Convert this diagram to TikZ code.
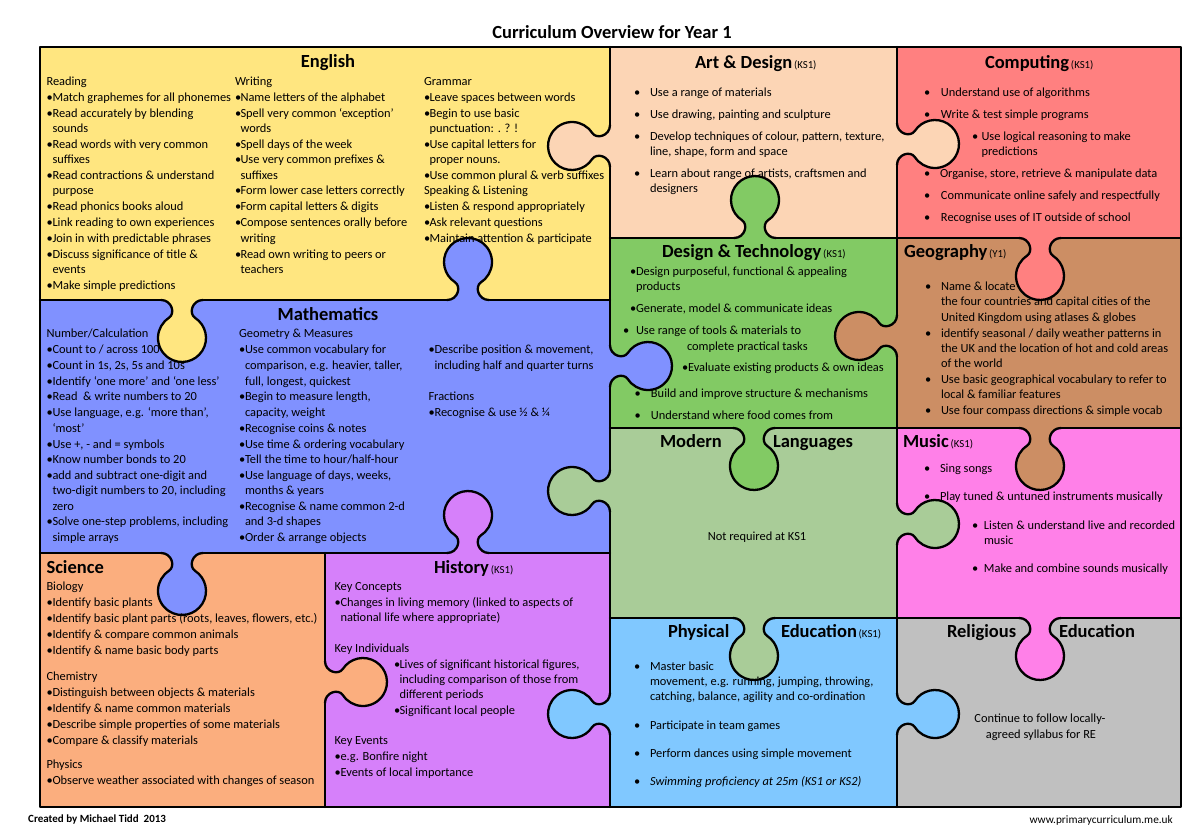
\documentclass[tikz,border=0pt]{standalone}
\usepackage{fontspec}
\setmainfont{Carlito}
\definecolor{cEng}{RGB}{255,230,128}
\definecolor{cArt}{RGB}{252,213,181}
\definecolor{cComp}{RGB}{255,128,128}
\definecolor{cMath}{RGB}{128,145,255}
\definecolor{cDT}{RGB}{130,202,100}
\definecolor{cGeo}{RGB}{204,142,100}
\definecolor{cML}{RGB}{169,204,152}
\definecolor{cMus}{RGB}{255,128,232}
\definecolor{cSci}{RGB}{251,174,126}
\definecolor{cHist}{RGB}{214,128,250}
\definecolor{cPE}{RGB}{128,200,255}
\definecolor{cRE}{RGB}{192,192,192}
\newcounter{lnc}
\tikzset{
 txt/.style={anchor=base west, inner sep=0pt, outer sep=0pt, font=\fontsize{12.4}{14}\selectfont},
 hd/.style={anchor=base west, inner sep=0pt, outer sep=0pt, font=\fontsize{18.5}{20}\selectfont\bfseries},
 pzline/.style={line width=2.3pt, line join=round, line cap=round},
}
\newcommand\txl[3]{\stepcounter{lnc}\node[txt] (t\arabic{lnc}) at (#1,{-(#2)-4}) {#3};}
\newcommand\bul[4]{\stepcounter{lnc}\node[txt] (t\arabic{lnc}) at (#2,{-(#3)-4}) {\llap{\makebox[\dimexpr#2pt-#1pt\relax][l]{•}}#4};}
\newcommand\hdl[3]{\stepcounter{lnc}\node[hd] (h\arabic{lnc}) at (#1,{-(#2)-5.5}) {#3};}
\newcommand\KS{{\mdseries\fontsize{10.8}{11}\selectfont\,(KS1)}}
\newcommand\tabcurve{(-21,0) .. controls (-10,0) and (-6.5,13.5) .. (-13,17.8) arc[start angle=237.2, end angle=-57.2, radius=24] .. controls (6.5,13.5) and (10,0) .. (21,0)}
\newcommand\ptab[4]{\begin{scope}[shift={(#1,-#2)}, rotate=#3]
 \fill[#4] (-21,-2) -- \tabcurve -- (21,-2) -- cycle;
 \draw[pzline] \tabcurve;
\end{scope}}
\begin{document}
\begin{tikzpicture}[x=1pt,y=1pt]
\useasboundingbox (0,0) rectangle (1187,-825);
\fill[white] (0,0) rectangle (1187,-825);
% pieces
\fill[cEng] (40,-47) rectangle (610,-300);
\fill[cArt] (610,-47) rectangle (897,-238);
\fill[cComp] (897,-47) rectangle (1181,-238);
\fill[cMath] (40,-300) rectangle (610,-553);
\fill[cDT] (610,-238) rectangle (897,-428);
\fill[cGeo] (897,-238) rectangle (1181,-428);
\fill[cML] (610,-428) rectangle (897,-618);
\fill[cMus] (897,-428) rectangle (1181,-618);
\fill[cSci] (40,-553) rectangle (325,-807);
\fill[cHist] (325,-553) rectangle (610,-807);
\fill[cPE] (610,-618) rectangle (897,-807);
\fill[cRE] (897,-618) rectangle (1181,-807);
% straight edges
\draw[pzline] (610,-47) -- (610,-807);
\draw[pzline] (897,-47) -- (897,-807);
\draw[pzline] (325,-553) -- (325,-807);
\draw[pzline] (40,-300) -- (610,-300);
\draw[pzline] (40,-553) -- (610,-553);
\draw[pzline] (610,-238) -- (1181,-238);
\draw[pzline] (610,-428) -- (1181,-428);
\draw[pzline] (610,-618) -- (1181,-618);
% tabs
\ptab{610}{146}{90}{cArt}
\ptab{468}{300}{0}{cMath}
\ptab{182}{300}{180}{cEng}
\ptab{610}{366}{-90}{cMath}
\ptab{755}{238}{0}{cDT}
\ptab{897}{144}{-90}{cArt}
\ptab{1040}{238}{180}{cComp}
\ptab{897}{336}{90}{cGeo}
\ptab{754}{428}{180}{cDT}
\ptab{1040}{428}{180}{cGeo}
\ptab{610}{491}{90}{cML}
\ptab{897}{524}{-90}{cML}
\ptab{182}{553}{180}{cMath}
\ptab{468}{553}{0}{cHist}
\ptab{325}{682}{-90}{cSci}
\ptab{610}{714}{90}{cPE}
\ptab{754}{618}{180}{cML}
\ptab{1040}{618}{180}{cMus}
\ptab{897}{714}{-90}{cPE}
\draw[pzline] (40,-47) rectangle (1181,-807);
% title and footer
\node[anchor=base, inner sep=0pt, font=\fontsize{18.5}{20}\selectfont\bfseries] (title) at (612,-38) {Curriculum Overview for Year 1};
\node[anchor=base west, inner sep=0pt, font=\fontsize{11}{12}\selectfont\bfseries] (credit) at (28,-822) {Created by Michael Tidd\ \ 2013};
\node[anchor=base east, inner sep=0pt, font=\fontsize{11.3}{12}\selectfont] (web) at (1173,-823) {www.primarycurriculum.me.uk};
% English
\node[hd, anchor=base] (heng) at (328,-67.5) {English};
\txl{46.5}{81}{Reading}
\bul{46.5}{52.5}{97}{Match graphemes for all phonemes}
\bul{46.5}{52.5}{113}{Read accurately by blending}
\txl{52.5}{128}{sounds}
\bul{46.5}{52.5}{144}{Read words with very common}
\txl{52.5}{159}{suffixes}
\bul{46.5}{52.5}{175}{Read contractions \& understand}
\txl{52.5}{190}{purpose}
\bul{46.5}{52.5}{206}{Read phonics books aloud}
\bul{46.5}{52.5}{222}{Link reading to own experiences}
\bul{46.5}{52.5}{238}{Join in with predictable phrases}
\bul{46.5}{52.5}{254}{Discuss significance of title \&}
\txl{52.5}{269}{events}
\bul{46.5}{52.5}{285}{Make simple predictions}
\txl{235}{81}{Writing}
\bul{235}{240.5}{97}{Name letters of the alphabet}
\bul{235}{240.5}{113}{Spell very common ‘exception’}
\txl{240.5}{128}{words}
\bul{235}{240.5}{144}{Spell days of the week}
\bul{235}{240.5}{159}{Use very common prefixes \&}
\txl{240.5}{175}{suffixes}
\bul{235}{240.5}{190}{Form lower case letters correctly}
\bul{235}{240.5}{206}{Form capital letters \& digits}
\bul{235}{240.5}{222}{Compose sentences orally before}
\txl{240.5}{238}{writing}
\bul{235}{240.5}{254}{Read own writing to peers or}
\txl{240.5}{269}{teachers}
\txl{424}{81}{Grammar}
\bul{424}{429.5}{97}{Leave spaces between words}
\bul{424}{429.5}{113}{Begin to use basic}
\txl{429.5}{128}{punctuation: . ? !}
\bul{424}{429.5}{144}{Use capital letters for}
\txl{429.5}{159}{proper nouns.}
\bul{424}{429.5}{175}{Use common plural \& verb suffixes}
\txl{424}{190}{Speaking \& Listening}
\bul{424}{429.5}{206}{Listen \& respond appropriately}
\bul{424}{429.5}{222}{Ask relevant questions}
\bul{424}{429.5}{238}{Maintain attention \& participate}
% Art & Design
\hdl{695}{63}{Art \& Design\KS}
\bul{634}{650}{92}{Use a range of materials}
\bul{634}{650}{114}{Use drawing, painting and sculpture}
\bul{634}{650}{136}{Develop techniques of colour, pattern, texture,}
\txl{650}{151}{line, shape, form and space}
\bul{634}{650}{173}{Learn about range of artists, craftsmen and}
\txl{650}{188}{designers}
% Computing
\hdl{985}{63}{Computing\KS}
\bul{924}{941}{92}{Understand use of algorithms}
\bul{924}{941}{114}{Write \& test simple programs}
\bul{972}{981.5}{136}{Use logical reasoning to make}
\txl{981.5}{151}{predictions}
\bul{924}{940}{173}{Organise, store, retrieve \& manipulate data}
\bul{924}{941}{195}{Communicate online safely and respectfully}
\bul{924}{941}{217}{Recognise uses of IT outside of school}
% Mathematics
\node[hd, anchor=base] (hmath) at (328,-320.5) {Mathematics};
\txl{46.5}{333}{Number/Calculation}
\bul{46.5}{52.5}{349}{Count to / across 100}
\bul{46.5}{52.5}{365}{Count in 1s, 2s, 5s and 10s}
\bul{46.5}{52.5}{381}{Identify ‘one more’ and ‘one less’}
\bul{46.5}{52.5}{396.5}{Read\ \ \& write numbers to 20}
\bul{46.5}{52.5}{412}{Use language, e.g. ‘more than’,}
\txl{52.5}{428}{‘most’}
\bul{46.5}{52.5}{444}{Use +, - and = symbols}
\bul{46.5}{52.5}{459.5}{Know number bonds to 20}
\bul{46.5}{52.5}{475}{add and subtract one-digit and}
\txl{52.5}{490.5}{two-digit numbers to 20, including}
\txl{52.5}{506}{zero}
\bul{46.5}{52.5}{521.5}{Solve one-step problems, including}
\txl{52.5}{537}{simple arrays}
\txl{239}{333}{Geometry \& Measures}
\bul{239}{245}{349}{Use common vocabulary for}
\txl{245}{365}{comparison, e.g. heavier, taller,}
\txl{245}{381}{full, longest, quickest}
\bul{239}{245}{396.5}{Begin to measure length,}
\txl{245}{412}{capacity, weight}
\bul{239}{245}{428}{Recognise coins \& notes}
\bul{239}{245}{444}{Use time \& ordering vocabulary}
\bul{239}{245}{459.5}{Tell the time to hour/half-hour}
\bul{239}{245}{475}{Use language of days, weeks,}
\txl{245}{490.5}{months \& years}
\bul{239}{245}{506}{Recognise \& name common 2-d}
\txl{245}{521.5}{and 3-d shapes}
\bul{239}{245}{537}{Order \& arrange objects}
\bul{428.5}{434.5}{349}{Describe position \& movement,}
\txl{434.5}{365}{including half and quarter turns}
\txl{428.5}{396.5}{Fractions}
\bul{428.5}{434.5}{412}{Recognise \& use ½ \& ¼}
% Design & Technology
\hdl{662}{252}{Design \& Technology\KS}
\bul{630}{636}{271.5}{Design purposeful, functional \& appealing}
\txl{636}{286}{products}
\bul{630}{636}{308.5}{Generate, model \& communicate ideas}
\bul{623}{636}{330}{Use range of tools \& materials to}
\txl{687}{346}{complete practical tasks}
\bul{682}{688}{367.5}{Evaluate existing products \& own ideas}
\bul{634.5}{651}{393.5}{Build and improve structure \& mechanisms}
\bul{634.5}{651}{415}{Understand where food comes from}
% Geography
\hdl{904}{252}{Geography{\mdseries\fontsize{10.8}{11}\selectfont\,(Y1)}}
\bul{925}{941}{286}{Name \& locate}
\txl{941}{301}{the four countries and capital cities of the}
\txl{941}{317}{United Kingdom using atlases \& globes}
\bul{925}{941}{333}{identify seasonal / daily weather patterns in}
\txl{941}{348}{the UK and the location of hot and cold areas}
\txl{941}{363.5}{of the world}
\bul{925}{941}{379}{Use basic geographical vocabulary to refer to}
\txl{941}{394.5}{local \& familiar features}
\bul{925}{941}{410}{Use four compass directions \& simple vocab}
% Modern Languages
\hdl{660}{442}{Modern}
\hdl{773}{442}{Languages}
\node[txt, anchor=base] (mltext) at (757,-540) {Not required at KS1};
% Music
\hdl{903}{442}{Music\KS}
\bul{924}{940}{468}{Sing songs}
\bul{924}{940}{496}{Play tuned \& untuned instruments musically}
\bul{972}{984}{525}{Listen \& understand live and recorded}
\txl{984}{540}{music}
\bul{972}{984}{568}{Make and combine sounds musically}
% Science
\hdl{46.5}{568}{Science}
\txl{46.5}{586}{Biology}
\bul{46.5}{52.5}{602}{Identify basic plants}
\bul{46.5}{52.5}{618}{Identify basic plant parts (roots, leaves, flowers, etc.)}
\bul{46.5}{52.5}{634}{Identify \& compare common animals}
\bul{46.5}{52.5}{650}{Identify \& name basic body parts}
\txl{46.5}{676}{Chemistry}
\bul{46.5}{52.5}{692}{Distinguish between objects \& materials}
\bul{46.5}{52.5}{708}{Identify \& name common materials}
\bul{46.5}{52.5}{724}{Describe simple properties of some materials}
\bul{46.5}{52.5}{740}{Compare \& classify materials}
\txl{46.5}{764}{Physics}
\bul{46.5}{52.5}{780}{Observe weather associated with changes of season}
% History
\hdl{434}{568}{History\KS}
\txl{334.5}{586}{Key Concepts}
\bul{334.5}{340.5}{602}{Changes in living memory (linked to aspects of}
\txl{340.5}{617}{national life where appropriate)}
\txl{334.5}{648}{Key Individuals}
\bul{394}{399.5}{664}{Lives of significant historical figures,}
\txl{399.5}{679}{including comparison of those from}
\txl{399.5}{694.5}{different periods}
\bul{394}{399.5}{710}{Significant local people}
\txl{334.5}{740}{Key Events}
\bul{334.5}{340.5}{756}{e.g. Bonfire night}
\bul{334.5}{340.5}{772}{Events of local importance}
% Physical Education
\hdl{668}{632}{Physical}
\hdl{781}{632}{Education\KS}
\bul{634}{650}{666}{Master basic}
\txl{650}{681}{movement, e.g. running, jumping, throwing,}
\txl{650}{696.5}{catching, balance, agility and co-ordination}
\bul{634}{650}{725}{Participate in team games}
\bul{634}{650}{753}{Perform dances using simple movement}
\bul{634}{650}{781.5}{\itshape Swimming proficiency at 25m (KS1 or KS2)}
% Religious Education
\hdl{947}{632}{Religious}
\hdl{1059}{632}{Education}
\node[txt, anchor=base] (re1) at (1040,-722.5) {Continue to follow locally-};
\node[txt, anchor=base] (re2) at (1041,-738) {agreed syllabus for RE};
\end{tikzpicture}
\end{document}
